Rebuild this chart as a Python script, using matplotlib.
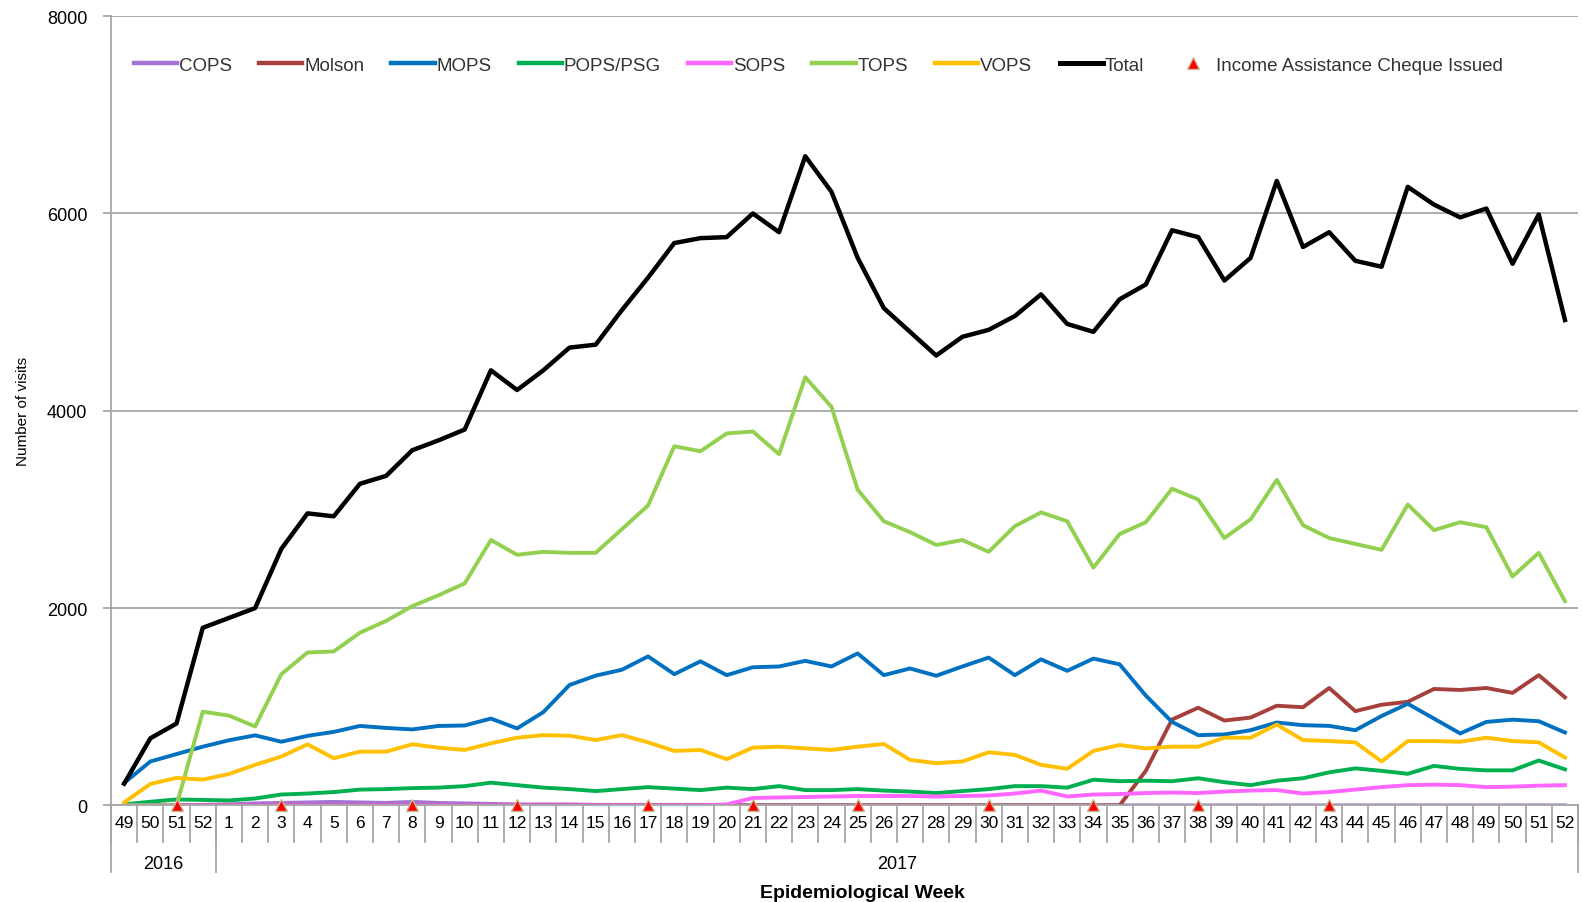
import matplotlib
matplotlib.use("Agg")
import matplotlib.pyplot as plt
from matplotlib.lines import Line2D
import numpy as np

plt.rcParams["font.family"] = ["Liberation Sans", "DejaVu Sans"]

week_labels = ["49", "50", "51", "52"] + [str(w) for w in range(1, 53)]
year_groups = [("2016", 0, 3), ("2017", 4, 55)]

cops = [0, 0, 0, 5,
        10, 20, 25, 30, 35, 30, 25, 35, 25, 20, 15, 10, 10, 10, 5, 5, 5, 5, 5, 5,
        0, 0, 0, 0, 0, 0, 0, 0, 0, 0, 0, 0, 0, 0, 0, 0, 0, 0, 0, 0, 0, 0,
        0, 0, 0, 0, 0, 0, 0, 0, 0, 0]
molson = [0, 0, 0, 0,
          0, 0, 0, 0, 0, 0, 0, 0, 0, 0, 0, 0, 0, 0, 0, 0, 0, 0, 0, 0,
          0, 0, 0, 0, 0, 0, 0, 0, 0, 0, 0, 0, 0, 0, 0, 350, 870, 990, 860, 890,
          1010, 995, 1190, 955, 1020, 1050, 1180, 1170, 1190, 1140, 1320, 1095]
mops = [227, 445, 520, 595,
        660, 710, 645, 705, 745, 805, 785, 770, 805, 810, 880, 780, 945, 1220, 1315, 1375,
        1510, 1330, 1460, 1320, 1400, 1408, 1465, 1408, 1540, 1320, 1388, 1314, 1408, 1498,
        1320, 1480, 1364, 1488, 1430, 1113, 846, 712, 719, 762, 840, 813, 806, 762, 906,
        1030, 880, 729, 846, 869, 853, 739]
pops_psg = [10, 37, 60, 55,
            50, 70, 110, 120, 135, 160, 165, 175, 180, 195, 230, 205, 180, 165, 145, 165,
            185, 170, 155, 180, 165, 195, 155, 155, 165, 150, 140, 125, 145, 165, 195, 195,
            180, 260, 245, 250, 245, 275, 235, 205, 250, 275, 335, 375, 350, 320, 400, 370,
            355, 355, 455, 365]
sops = [0, 0, 0, 0,
        0, 0, 0, 0, 0, 0, 0, 0, 0, 0, 0, 0, 0, 0, 0, 0, 0, 0, 0,
        10, 75, 80, 85, 90, 95, 95, 95, 90, 95, 100, 120, 150, 90, 110, 115, 125,
        130, 125, 140, 150, 155, 120, 135, 160, 185, 205, 210, 205, 185, 190, 200, 205]
tops = [0, 0, 0, 950,
        910, 800, 1330, 1550, 1560, 1750, 1870, 2020, 2130, 2250, 2690, 2540, 2570, 2560,
        2560, 2800, 3040, 3640, 3590, 3770, 3790, 3560, 4340, 4040, 3200, 2880, 2770, 2640,
        2690, 2570, 2830, 2970, 2880, 2410, 2750, 2870, 3210, 3100, 2710, 2900, 3300, 2840,
        2710, 2650, 2590, 3050, 2790, 2870, 2820, 2320, 2560, 2070]
vops = [30, 217, 278, 261,
        318, 411, 495, 619, 478, 545, 545, 619, 585, 562, 629, 686, 712, 706, 662, 712,
        639, 552, 562, 468, 585, 595, 578, 562, 595, 622, 461, 428, 445, 538, 512, 411,
        371, 552, 612, 578, 595, 595, 686, 686, 819, 662, 652, 639, 445, 652, 652, 645,
        686, 652, 639, 485]
total = [220, 680, 830, 1800,
         1900, 2000, 2600, 2960, 2930, 3260, 3340, 3600, 3700, 3810, 4410, 4210, 4410, 4640,
         4670, 5020, 5350, 5700, 5750, 5760, 6000, 5810, 6580, 6220, 5550, 5040, 4800, 4560,
         4750, 4820, 4960, 5180, 4880, 4800, 5130, 5280, 5830, 5760, 5320, 5550, 6330, 5660,
         5810, 5520, 5460, 6270, 6090, 5960, 6050, 5490, 5990, 4920]

# weeks (index into week_labels) where an income assistance cheque was issued
cheque_idx = [2, 6, 11, 15, 20, 24, 28, 33, 37, 41, 46]

series = [
    ("COPS", cops, "#A374D5", 2.8),
    ("Molson", molson, "#A5403C", 2.8),
    ("MOPS", mops, "#0070C0", 2.8),
    ("POPS/PSG", pops_psg, "#00B050", 2.8),
    ("SOPS", sops, "#FF66FF", 2.8),
    ("TOPS", tops, "#92D050", 2.8),
    ("VOPS", vops, "#FFC000", 2.8),
    ("Total", total, "#000000", 3.2),
]

GRID = "#A6A6A6"


def main() -> None:
    fig = plt.figure(figsize=(15.82, 9.03), dpi=100)
    ax = fig.add_axes([0.0702, 0.107, 0.9273, 0.874])
    x = np.arange(len(week_labels))

    handles = []
    for name, vals, color, lw in series:
        ax.plot(x, vals, color=color, lw=lw, solid_joinstyle="round", label=name)
        handles.append(Line2D([], [], color=color, lw=lw + 0.4, label=name))

    ax.plot(x[cheque_idx], np.zeros(len(cheque_idx)), linestyle="none", marker="^",
            markersize=9, markerfacecolor="#FF0000", markeredgecolor="#C4BD97",
            markeredgewidth=1.0, zorder=10, clip_on=False)
    handles.append(Line2D([], [], linestyle="none", marker="^", markersize=9,
                          markerfacecolor="#FF0000", markeredgecolor="#C4BD97",
                          label="Income Assistance Cheque Issued"))

    ax.set_xlim(-0.5, len(week_labels) - 0.5)
    ax.set_ylim(0, 8000)
    ax.set_yticks([0, 2000, 4000, 6000, 8000])
    ax.yaxis.grid(True, color=GRID, lw=1.3)
    ax.set_axisbelow(True)
    for side in ["top", "right"]:
        ax.spines[side].set_visible(False)
    ax.spines["left"].set_color(GRID)
    ax.spines["bottom"].set_color(GRID)
    ax.spines["left"].set_linewidth(1.3)
    ax.spines["bottom"].set_linewidth(1.3)
    ax.tick_params(axis="y", length=6, color=GRID, width=1.3, pad=11, labelsize=13)

    ax.set_xticks(x)
    ax.set_xticklabels(week_labels)
    ax.tick_params(axis="x", length=0, pad=7, labelsize=12.5)

    # category separators below the axis
    tr = ax.get_xaxis_transform()
    for b in np.arange(len(week_labels) + 1) - 0.5:
        ax.plot([b, b], [0, -0.047], transform=tr, color=GRID, lw=1.3, clip_on=False)
    for label, start, end in year_groups:
        ax.plot([start - 0.5, start - 0.5], [0, -0.085], transform=tr, color=GRID,
                lw=1.3, clip_on=False)
        ax.text((start + end) / 2, -0.074, label, transform=tr, ha="center",
                va="center", fontsize=13)
    ax.plot([len(week_labels) - 0.5] * 2, [0, -0.085], transform=tr, color=GRID,
            lw=1.3, clip_on=False)

    ax.set_ylabel("Number of visits", fontsize=11, labelpad=12)
    fig.text(0.545, 0.01, "Epidemiological Week", ha="center", va="center",
             fontsize=14, fontweight="bold")

    ax.legend(handles=handles, ncol=9, loc="center left", bbox_to_anchor=(0.004, 0.938),
              frameon=False, fontsize=13.5, handlelength=2.3, handletextpad=0.1,
              columnspacing=1.45, labelcolor="#333333")

    fig.savefig("out.png", dpi=100)
    plt.close(fig)


if __name__ == "__main__":
    main()
